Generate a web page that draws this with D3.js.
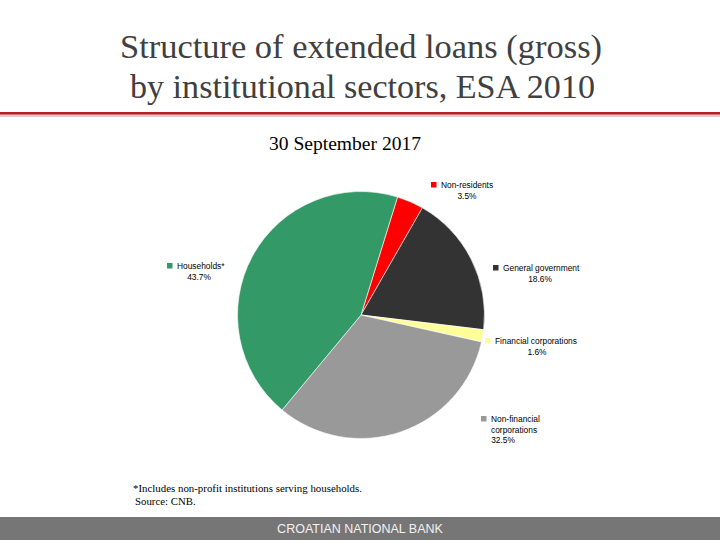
<!DOCTYPE html>
<html>
<head>
<meta charset="utf-8">
<script src="https://cdn.jsdelivr.net/npm/d3@7"></script>
<style>
  body { margin: 0; background: #fff; }
</style>
</head>
<body>
<div id="chart"></div>
<script>
// sectors, clockwise from the top (Non-residents first)
var sectors = ["Non-residents", "General government", "Financial corporations", "Non-financial corporations", "Households*"];
var shares = [3.5, 18.6, 1.6, 32.5, 43.7];
var shareLabels = ["3.5%", "18.6%", "1.6%", "32.5%", "43.7%"];
var colors = ["#ff0000", "#333333", "#ffff99", "#999999", "#339966"];

var svgWidth = 720, svgHeight = 540;

var svg = d3.select("#chart")
  .append("svg")
  .attr("width", svgWidth)
  .attr("height", svgHeight);

// title (fitted to the width seen in the slide)
var title = svg.append("text")
  .attr("font-family", "Liberation Serif, Times New Roman, serif")
  .attr("font-size", "33px")
  .attr("fill", "#404040");
title.append("tspan").attr("x", 120).attr("y", 58)
  .attr("textLength", 482).attr("lengthAdjust", "spacingAndGlyphs")
  .text("Structure of extended loans (gross)");
title.append("tspan").attr("x", 130).attr("y", 98)
  .attr("textLength", 465).attr("lengthAdjust", "spacingAndGlyphs")
  .text("by institutional sectors, ESA 2010");

// red rule under the title
svg.append("rect")
  .attr("x", 0).attr("y", 114)
  .attr("width", svgWidth).attr("height", 3)
  .attr("fill", "#e8c8c8");
svg.append("rect")
  .attr("x", 0).attr("y", 112)
  .attr("width", svgWidth).attr("height", 2.5)
  .attr("fill", "#b52025");

// date
svg.append("text")
  .attr("x", 269).attr("y", 150)
  .attr("textLength", 152).attr("lengthAdjust", "spacingAndGlyphs")
  .attr("font-family", "Liberation Serif, Times New Roman, serif")
  .attr("font-size", "19px")
  .attr("fill", "#000")
  .text("30 September 2017");

// pie
var cx = 361, cy = 315, radius = 123.5;
var startAngle = 17.2 * Math.PI / 180;

var pie = d3.pie()
  .sort(null)
  .value(d => d)
  .startAngle(startAngle)
  .endAngle(startAngle + 2 * Math.PI);

var arc = d3.arc().innerRadius(0).outerRadius(radius);

var pieGroup = svg.append("g")
  .attr("transform", `translate(${cx}, ${cy})`);

pieGroup.selectAll("path")
  .data(pie(shares))
  .enter()
  .append("path")
  .attr("d", arc)
  .attr("fill", (d, i) => colors[i])
  .attr("stroke", "#fff")
  .attr("stroke-width", 0.6);

// labels: marker, name lines, percentage
var labelPos = [
  { mx: 434, my: 185, lines: ["Non-residents"], px: 467 },
  { mx: 496, my: 268, lines: ["General government"], px: 540 },
  { mx: 488, my: 341, lines: ["Financial corporations"], px: 537 },
  { mx: 484, my: 419, lines: ["Non-financial", "corporations"], px: 503 },
  { mx: 170, my: 266, lines: ["Households*"], px: 199 }
];

var labels = svg.append("g")
  .attr("font-family", "Liberation Sans, Arial, sans-serif")
  .attr("font-size", "8.4px")
  .attr("fill", "#000");

labelPos.forEach(function(p, i) {
  labels.append("rect")
    .attr("x", p.mx - 3).attr("y", p.my - 3)
    .attr("width", 5.5).attr("height", 5.5)
    .attr("fill", colors[i]);
  p.lines.forEach(function(line, j) {
    labels.append("text")
      .attr("x", p.mx + 7)
      .attr("y", p.my + 3 + j * 10.5)
      .text(line);
  });
  labels.append("text")
    .attr("x", p.px)
    .attr("y", p.my + 3 + p.lines.length * 10.5)
    .attr("text-anchor", "middle")
    .text(shareLabels[i]);
});

// footnote
var note = svg.append("text")
  .attr("font-family", "Liberation Serif, Times New Roman, serif")
  .attr("font-size", "10.8px")
  .attr("fill", "#000");
note.append("tspan").attr("x", 133).attr("y", 492)
  .attr("textLength", 229).attr("lengthAdjust", "spacingAndGlyphs")
  .text("*Includes non-profit institutions serving households.");
note.append("tspan").attr("x", 135).attr("y", 505).text("Source: CNB.");

// footer bar
svg.append("rect")
  .attr("x", 0).attr("y", 517)
  .attr("width", svgWidth).attr("height", 23)
  .attr("fill", "#767676");
svg.append("text")
  .attr("x", 360).attr("y", 533)
  .attr("text-anchor", "middle")
  .attr("font-family", "Liberation Sans, Arial, sans-serif")
  .attr("font-size", "12.5px")
  .attr("fill", "#f2f2f2")
  .text("CROATIAN NATIONAL BANK");
</script>
</body>
</html>
